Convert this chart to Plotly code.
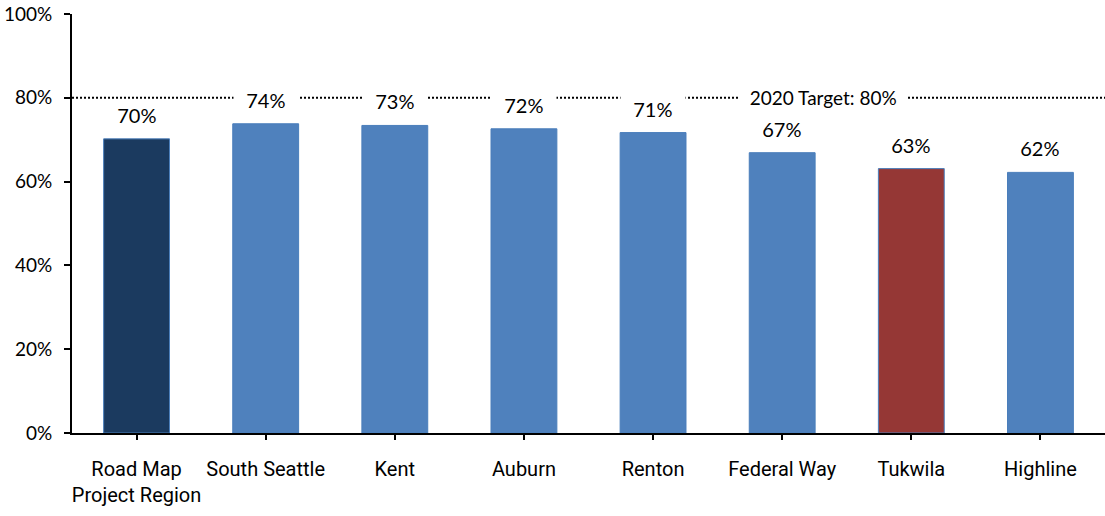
import plotly.graph_objects as go

categories = ["Road Map<br>Project Region", "South Seattle", "Kent", "Auburn",
              "Renton", "Federal Way", "Tukwila", "Highline"]
values = [70.2, 73.8, 73.4, 72.6, 71.7, 66.9, 63.1, 62.2]
value_labels = ["70%", "74%", "73%", "72%", "71%", "67%", "63%", "62%"]
bar_colors = ["#1b3a5f", "#4f81bd", "#4f81bd", "#4f81bd",
              "#4f81bd", "#4f81bd", "#953735", "#4f81bd"]
target_value = 80
target_label = "2020 Target: 80%"
y_ticks = [0, 20, 40, 60, 80, 100]
y_tick_labels = ["0%", "20%", "40%", "60%", "80%", "100%"]

num_font = "Lato, 'Open Sans', sans-serif"
cat_font = "'Liberation Sans Narrow', 'Arial Narrow', Roboto, sans-serif"

fig = go.Figure()
fig.add_trace(go.Bar(
    x=categories, y=values,
    marker=dict(color=bar_colors, line=dict(color="#4a7ebb", width=1)),
    width=0.51, hoverinfo="skip",
))

# target line
fig.add_shape(type="line", xref="paper", yref="y", x0=0, x1=1,
              y0=target_value, y1=target_value,
              line=dict(color="black", width=2, dash="2px,2px"), layer="above")

annotations = []
for c, v, t in zip(categories, values, value_labels):
    annotations.append(dict(
        x=c, y=v, xref="x", yref="y", text="\u00a0\u00a0" + t + "\u00a0\u00a0",
        showarrow=False, yanchor="middle", yshift=24,
        font=dict(family=num_font, size=20, color="black"),
        bgcolor="white", borderpad=2,
    ))
annotations.append(dict(
    x=0.809, y=target_value, xref="paper", yref="y",
    text="\u00a0\u00a0" + target_label + "\u00a0\u00a0",
    showarrow=False, yanchor="middle",
    font=dict(family=num_font, size=19, color="black"),
    bgcolor="white", borderpad=1,
))

fig.update_layout(
    width=1105, height=516,
    margin=dict(l=72, r=0, t=14, b=83),
    plot_bgcolor="white", paper_bgcolor="white",
    showlegend=False,
    bargap=0.49,
    annotations=annotations,
    xaxis=dict(
        showline=True, linecolor="black", linewidth=2,
        ticks="outside", ticklen=5, tickwidth=2, tickcolor="black",
        tickfont=dict(family=cat_font, size=20, color="black"),
        tickangle=0, automargin=False,
        ticklabelstandoff=12,
        showgrid=False, zeroline=False,
    ),
    yaxis=dict(
        range=[0, 100], tickmode="array", tickvals=y_ticks, ticktext=y_tick_labels,
        showline=True, linecolor="black", linewidth=2,
        ticks="outside", ticklen=6, tickwidth=2, tickcolor="black",
        tickfont=dict(family=num_font, size=19, color="black"),
        automargin=False, ticklabelstandoff=8,
        showgrid=False, zeroline=False,
    ),
)

fig.write_html(
    "out.html",
    config={"displayModeBar": False},
    post_script="document.body.style.margin='0';document.body.style.overflow='hidden';",
)
